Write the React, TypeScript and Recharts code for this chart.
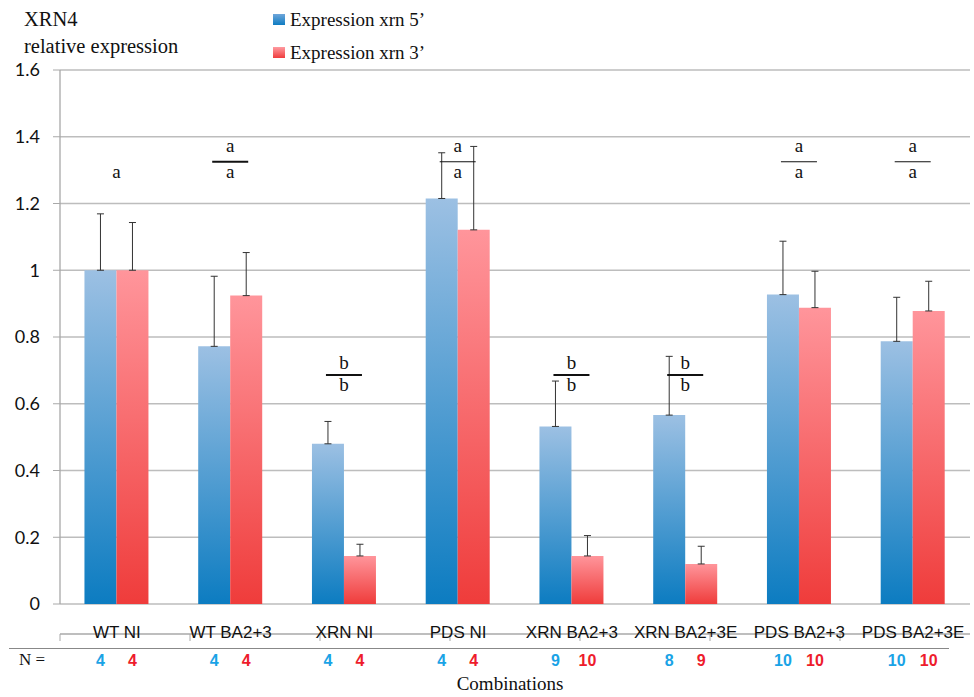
import React from "react";
import {
  BarChart,
  Bar,
  XAxis,
  YAxis,
  CartesianGrid,
  ErrorBar,
  LabelList,
  Legend,
} from "recharts";

const categories = [
  "WT NI",
  "WT BA2+3",
  "XRN NI",
  "PDS NI",
  "XRN BA2+3",
  "XRN BA2+3E",
  "PDS BA2+3",
  "PDS BA2+3E",
];
const xrn5 = [1.0, 0.772, 0.48, 1.215, 0.532, 0.566, 0.927, 0.787];
const xrn3 = [1.0, 0.924, 0.144, 1.121, 0.144, 0.12, 0.888, 0.878];
const xrn5Top = [1.169, 0.982, 0.547, 1.352, 0.668, 0.742, 1.087, 0.919];
const xrn3Top = [1.143, 1.053, 0.179, 1.371, 0.205, 0.173, 0.997, 0.967];
const nXrn5 = [4, 4, 4, 4, 9, 8, 10, 10];
const nXrn3 = [4, 4, 4, 4, 10, 9, 10, 10];
const sigUpper = ["", "a", "b", "a", "b", "b", "a", "a"];
const sigLower = ["a", "a", "b", "a", "b", "b", "a", "a"];
const sigLevel = [1.325, 1.325, 0.686, 1.325, 0.686, 0.686, 1.325, 1.325];
const yTicks = [0, 0.2, 0.4, 0.6, 0.8, 1, 1.2, 1.4, 1.6];
const edgeTicks = [0, 1, 2, 3, 4, 5, 6, 7, 8];

const data = categories.map((name, i) => ({
  name,
  xrn5: xrn5[i],
  xrn3: xrn3[i],
  err5: [0, xrn5Top[i] - xrn5[i]],
  err3: [0, xrn3Top[i] - xrn3[i]],
  n5: nXrn5[i],
  n3: nXrn3[i],
}));

const serif = "'Liberation Serif', 'Times New Roman', serif";
const sans = "'Liberation Sans', Arial, sans-serif";

const SigMark = (props: any) => {
  const { x, y, width, height, index } = props;
  const unit = Number(height) / xrn5[index];
  const base = Number(y) + Number(height);
  const ly = base - sigLevel[index] * unit;
  const cx = Number(x) + Number(width);
  const upper = sigUpper[index];
  // the darker bars of the original are the b groups and WT BA2+3
  const thick = upper === "b" || index === 1;
  return (
    <g fontFamily={serif} fontSize={19} fill="#111" textAnchor="middle">
      {upper && (
        <>
          <text x={cx} y={ly - (upper === "a" ? 10 : 6)}>{upper}</text>
          <line x1={cx - 18} x2={cx + 18} y1={ly} y2={ly} stroke="#111" strokeWidth={thick ? 2 : 1.1} />
        </>
      )}
      <text x={cx} y={ly + 16}>{sigLower[index]}</text>
    </g>
  );
};

const nLabel = (color: string) => (props: any) => {
  const { x, y, width, height, value } = props;
  return (
    <text
      x={Number(x) + Number(width) / 2}
      y={Number(y) + Number(height) + 62}
      textAnchor="middle"
      fontFamily={sans}
      fontWeight="bold"
      fontSize={16}
      fill={color}
    >
      {value}
    </text>
  );
};

const CatTick = (props: any) => {
  const { x, y, payload } = props;
  return (
    <text x={x} y={y} dy="0.71em" textAnchor="middle" fontFamily={sans} fontSize={17} fill="#111">
      {payload.value}
    </text>
  );
};

const swatch: Record<string, string> = {
  xrn5: "linear-gradient(#6fa6da, #0f7cc2)",
  xrn3: "linear-gradient(#ff9aa0, #ef3d3d)",
};
const legendOrder = ["xrn5", "xrn3"];

const LegendBox = ({ payload }: any) => {
  const items = [...(payload || [])].sort(
    (a: any, b: any) => legendOrder.indexOf(a.dataKey) - legendOrder.indexOf(b.dataKey)
  );
  return (
    <div style={{ fontFamily: serif, fontSize: 19, color: "#111" }}>
      {items.map((p: any) => (
        <div key={p.dataKey} style={{ display: "flex", alignItems: "center", height: 33 }}>
          <span style={{ width: 12, height: 11, background: swatch[p.dataKey], marginRight: 5 }} />
          {p.value}
        </div>
      ))}
    </div>
  );
};

export default function App() {
  return (
    <div style={{ position: "absolute", left: 0, top: 0, width: 974, height: 697, background: "#fff" }}>
      <div style={{ position: "absolute", left: 24, top: 6, fontFamily: serif, fontSize: 20.5, lineHeight: "27px", color: "#111" }}>
        XRN4
        <br />
        relative expression
      </div>
      <BarChart
        width={974}
        height={697}
        data={data}
        margin={{ top: 70, right: 4, bottom: 62, left: 0 }}
        barCategoryGap="21.5%"
        barGap={0}
      >
        <defs>
          <linearGradient id="g5" x1="0" y1="0" x2="0" y2="1">
            <stop offset="0%" stopColor="#9cc0e3" />
            <stop offset="100%" stopColor="#0c7cc1" />
          </linearGradient>
          <linearGradient id="g3" x1="0" y1="0" x2="0" y2="1">
            <stop offset="0%" stopColor="#ff959b" />
            <stop offset="100%" stopColor="#ef3c3b" />
          </linearGradient>
        </defs>
        <CartesianGrid vertical={false} stroke="#bdbdbd" strokeWidth={1.3} />
        <XAxis
          xAxisId="edge"
          type="number"
          domain={[0, 8]}
          ticks={edgeTicks}
          height={1}
          axisLine={{ stroke: "#a8a8a8", strokeWidth: 1.3 }}
          tickLine={{ stroke: "#a8a8a8" }}
          tickSize={7}
          tickFormatter={() => ""}
        />
        <XAxis
          dataKey="name"
          height={30}
          axisLine={false}
          tickLine={false}
          tickSize={0}
          tickMargin={22}
          interval={0}
          tick={<CatTick />}
        />
        <YAxis
          width={60}
          domain={[0, 1.6]}
          ticks={yTicks}
          axisLine={{ stroke: "#a8a8a8", strokeWidth: 1.3 }}
          tickLine={{ stroke: "#a8a8a8" }}
          tickSize={7}
          tickMargin={13}
          tick={{ fill: "#111", fontSize: 18, fontFamily: "Lato, sans-serif" }}
        />
        <Legend
          layout="vertical"
          align="center"
          verticalAlign="middle"
          wrapperStyle={{ left: 273, top: 3, width: 260 }}
          content={<LegendBox />}
        />
        <Bar dataKey="xrn5" name="Expression xrn 5’" fill="url(#g5)" isAnimationActive={false}>
          <ErrorBar dataKey="err5" width={3.5} stroke="#333" strokeWidth={1} direction="y" />
          <LabelList dataKey="n5" content={nLabel("#1aa3e6")} />
          <LabelList dataKey="xrn5" content={SigMark} />
        </Bar>
        <Bar dataKey="xrn3" name="Expression xrn 3’" fill="url(#g3)" isAnimationActive={false}>
          <ErrorBar dataKey="err3" width={3.5} stroke="#333" strokeWidth={1} direction="y" />
          <LabelList dataKey="n3" content={nLabel("#ee1c2c")} />
        </Bar>
      </BarChart>
      <div style={{ position: "absolute", left: 9, top: 648, width: 940, borderTop: "1px solid #888" }} />
      <div style={{ position: "absolute", left: 19, top: 650, fontFamily: serif, fontSize: 17, color: "#111" }}>
        N =
      </div>
      <div style={{ position: "absolute", left: 0, width: 1020, top: 673, textAlign: "center", fontFamily: serif, fontSize: 19, color: "#111" }}>
        Combinations
      </div>
    </div>
  );
}
